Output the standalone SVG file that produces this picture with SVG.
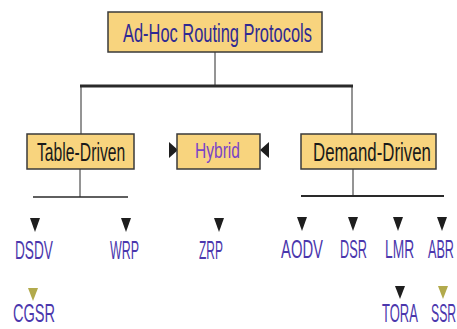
<svg xmlns="http://www.w3.org/2000/svg" width="457" height="329" viewBox="0 0 457 329">
<style>
.box{fill:#f8d47e;stroke:#3a3a3a;stroke-width:1.5}
.t{font-family:"Liberation Sans",Arial,sans-serif;font-size:25px}
.leaf{font-family:"Liberation Sans",Arial,sans-serif;font-size:26px;fill:#4b37ad}
.ln{stroke:#2a2a2a;fill:none}
.ah{fill:#1e1e1e}
.ao{fill:#b2aa4c}
</style>
<rect width="457" height="329" fill="#ffffff"/>
<g id="connectors">
  <line class="ln" x1="215" y1="52" x2="215" y2="86" stroke-width="1"/>
  <line class="ln" x1="80" y1="86" x2="353" y2="86" stroke-width="3"/>
  <line class="ln" x1="81" y1="85" x2="81" y2="134" stroke-width="1"/>
  <line class="ln" x1="352" y1="85" x2="352" y2="134" stroke-width="1"/>
  <line class="ln" x1="80" y1="169" x2="80" y2="197" stroke-width="1"/>
  <line class="ln" x1="33" y1="197" x2="128" y2="197" stroke-width="1.5"/>
  <line class="ln" x1="353" y1="169" x2="353" y2="196" stroke-width="1"/>
  <line class="ln" x1="301" y1="196" x2="444" y2="196" stroke-width="2"/>
  <polygon class="ah" points="169,142 178,150 169,158"/>
  <polygon class="ah" points="269,142 260,150 269,158"/>
  <polygon class="ah" points="30,218 40,218 35,232"/>
  <polygon class="ah" points="121,218 131,218 126,232"/>
  <polygon class="ah" points="214,218 224,218 219,232"/>
  <polygon class="ah" points="297,217 307,217 302,231"/>
  <polygon class="ah" points="348,217 358,217 353,231"/>
  <polygon class="ah" points="393,217 403,217 398,231"/>
  <polygon class="ah" points="437,217 447,217 442,231"/>
  <polygon class="ao" points="28,288 38,288 33,301"/>
  <polygon class="ah" points="395,286 405,286 400,299"/>
  <polygon class="ao" points="438,286 448,286 443,299"/>
</g>
<g id="root">
  <rect class="box" x="108" y="12" width="214" height="40"/>
  <text class="t" transform="translate(123,42) scale(0.657,1)" fill="#2f2a93">Ad-Hoc Routing Protocols</text>
</g>
<g id="table-driven">
  <rect class="box" x="27" y="134" width="107" height="35"/>
  <text class="t" transform="translate(37,161) scale(0.629,1)" fill="#1a1a1a">Table-Driven</text>
</g>
<g id="hybrid">
  <rect class="box" x="177" y="134" width="83" height="35"/>
  <text class="t" transform="translate(195,158) scale(0.708,1)" fill="#7a44c8" style="font-size:22px">Hybrid</text>
</g>
<g id="demand-driven">
  <rect class="box" x="301" y="134" width="135" height="35"/>
  <text class="t" transform="translate(313,161) scale(0.674,1)" fill="#1a1a1a">Demand-Driven</text>
</g>
<g id="dsdv"><text class="leaf" transform="translate(15,259) scale(0.526,1)">DSDV</text></g>
<g id="wrp"><text class="leaf" transform="translate(110,259) scale(0.478,1)">WRP</text></g>
<g id="zrp"><text class="leaf" transform="translate(199,259) scale(0.46,1)">ZRP</text></g>
<g id="aodv"><text class="leaf" transform="translate(281,258) scale(0.57,1)">AODV</text></g>
<g id="dsr"><text class="leaf" transform="translate(340,258) scale(0.49,1)">DSR</text></g>
<g id="lmr"><text class="leaf" transform="translate(385,258) scale(0.53,1)">LMR</text></g>
<g id="abr"><text class="leaf" transform="translate(428,258) scale(0.486,1)">ABR</text></g>
<g id="cgsr"><text class="leaf" transform="translate(13,322) scale(0.56,1)">CGSR</text></g>
<g id="tora"><text class="leaf" transform="translate(382,322) scale(0.5,1)">TORA</text></g>
<g id="ssr"><text class="leaf" transform="translate(431,322) scale(0.47,1)">SSR</text></g>
</svg>
